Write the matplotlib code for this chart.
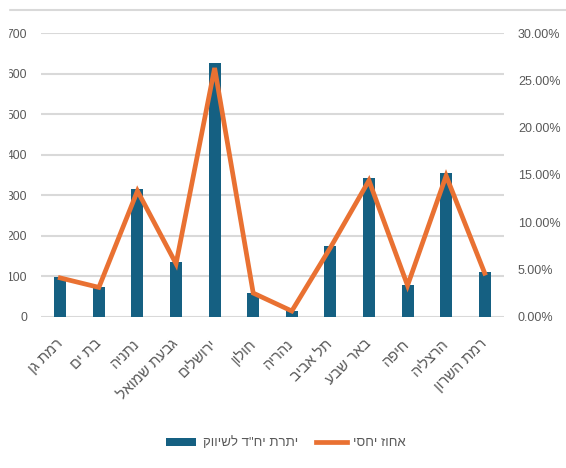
import matplotlib
matplotlib.use("Agg")
import matplotlib.pyplot as plt
from matplotlib.lines import Line2D
from matplotlib.patches import Rectangle
import numpy as np

plt.rcParams['font.family'] = ['Liberation Sans', 'DejaVu Sans']

# Data (logical Hebrew order)
categories = ["רמת גן", "בת ים", "נתניה", "גבעת שמואל", "ירושלים", "חולון",
              "נהריה", "תל אביב", "באר שבע", "חיפה", "הרצליה", "רמת השרון"]
units = [98, 74, 316, 134, 625, 58, 15, 174, 342, 79, 355, 110]
pct = [4.1, 3.1, 13.3, 5.6, 26.3, 2.5, 0.6, 7.3, 14.4, 3.3, 14.9, 4.6]
left_ticks = [0, 100, 200, 300, 400, 500, 600, 700]
right_ticks = [0, 5, 10, 15, 20, 25, 30]
bar_label = "יתרת יח\"ד לשיווק"
line_label = "אחוז יחסי"

def vis(s):
    return s[::-1]

BLUE = "#156082"
ORANGE = "#E97132"
GRID = "#D9D9D9"
TXT = "#595959"

W, H = 566, 468
fig = plt.figure(figsize=(W / 100, H / 100), dpi=100)
ax = fig.add_axes([41 / W, 1 - 316.7 / H, (504 - 41) / W, (316.7 - 33) / H])
ax2 = ax.twinx()

x = np.arange(len(categories))
b = ax.bar(x, units, width=0.31, color=BLUE, zorder=2, label=vis(bar_label))
ax.set_ylim(0, 700)
ax.set_xlim(-0.5, len(categories) - 0.5)
ax.set_yticks(left_ticks)
ax.set_yticklabels([str(t) for t in left_ticks])
ax.yaxis.grid(True, color=GRID, lw=1.5, zorder=0)
ax.set_axisbelow(True)
for s in ax.spines.values():
    s.set_visible(False)
ax.tick_params(axis='y', length=0, pad=10, labelsize=8.8, labelcolor=TXT)
ax.tick_params(axis='x', length=0, pad=18, labelsize=10.5, labelcolor=TXT)
ax.set_xticks(x)
ax.set_xticklabels([vis(c) for c in categories], rotation=45, ha='right',
                   va='center', rotation_mode='anchor')

l, = ax2.plot(x, pct, color=ORANGE, lw=3.4, solid_joinstyle='miter', zorder=3,
              label=vis(line_label))
ax2.set_ylim(0, 30)
ax2.set_yticks(right_ticks)
ax2.set_yticklabels([f"{t:.2f}%" for t in right_ticks])
ax2.tick_params(axis='y', length=0, pad=10, labelsize=9, labelcolor=TXT)
for s in ax2.spines.values():
    s.set_visible(False)

leg = fig.legend([b, l], [vis(bar_label), vis(line_label)], loc='center',
                 bbox_to_anchor=(286 / W, 1 - 443 / H), ncol=2, frameon=False,
                 fontsize=9.5, handlelength=2.3, handleheight=0.6,
                 columnspacing=1.4, handletextpad=0.5)
for t in leg.get_texts():
    t.set_color(TXT)

# top frame line
fig.add_artist(Line2D([10 / W, 1], [1 - 10 / H, 1 - 10 / H], color=GRID, lw=1.5))
# left crop edge
fig.add_artist(Rectangle((0, 0), 8 / W, 1, transform=fig.transFigure,
                         color='white', zorder=10))

fig.savefig("out.png", dpi=100)
